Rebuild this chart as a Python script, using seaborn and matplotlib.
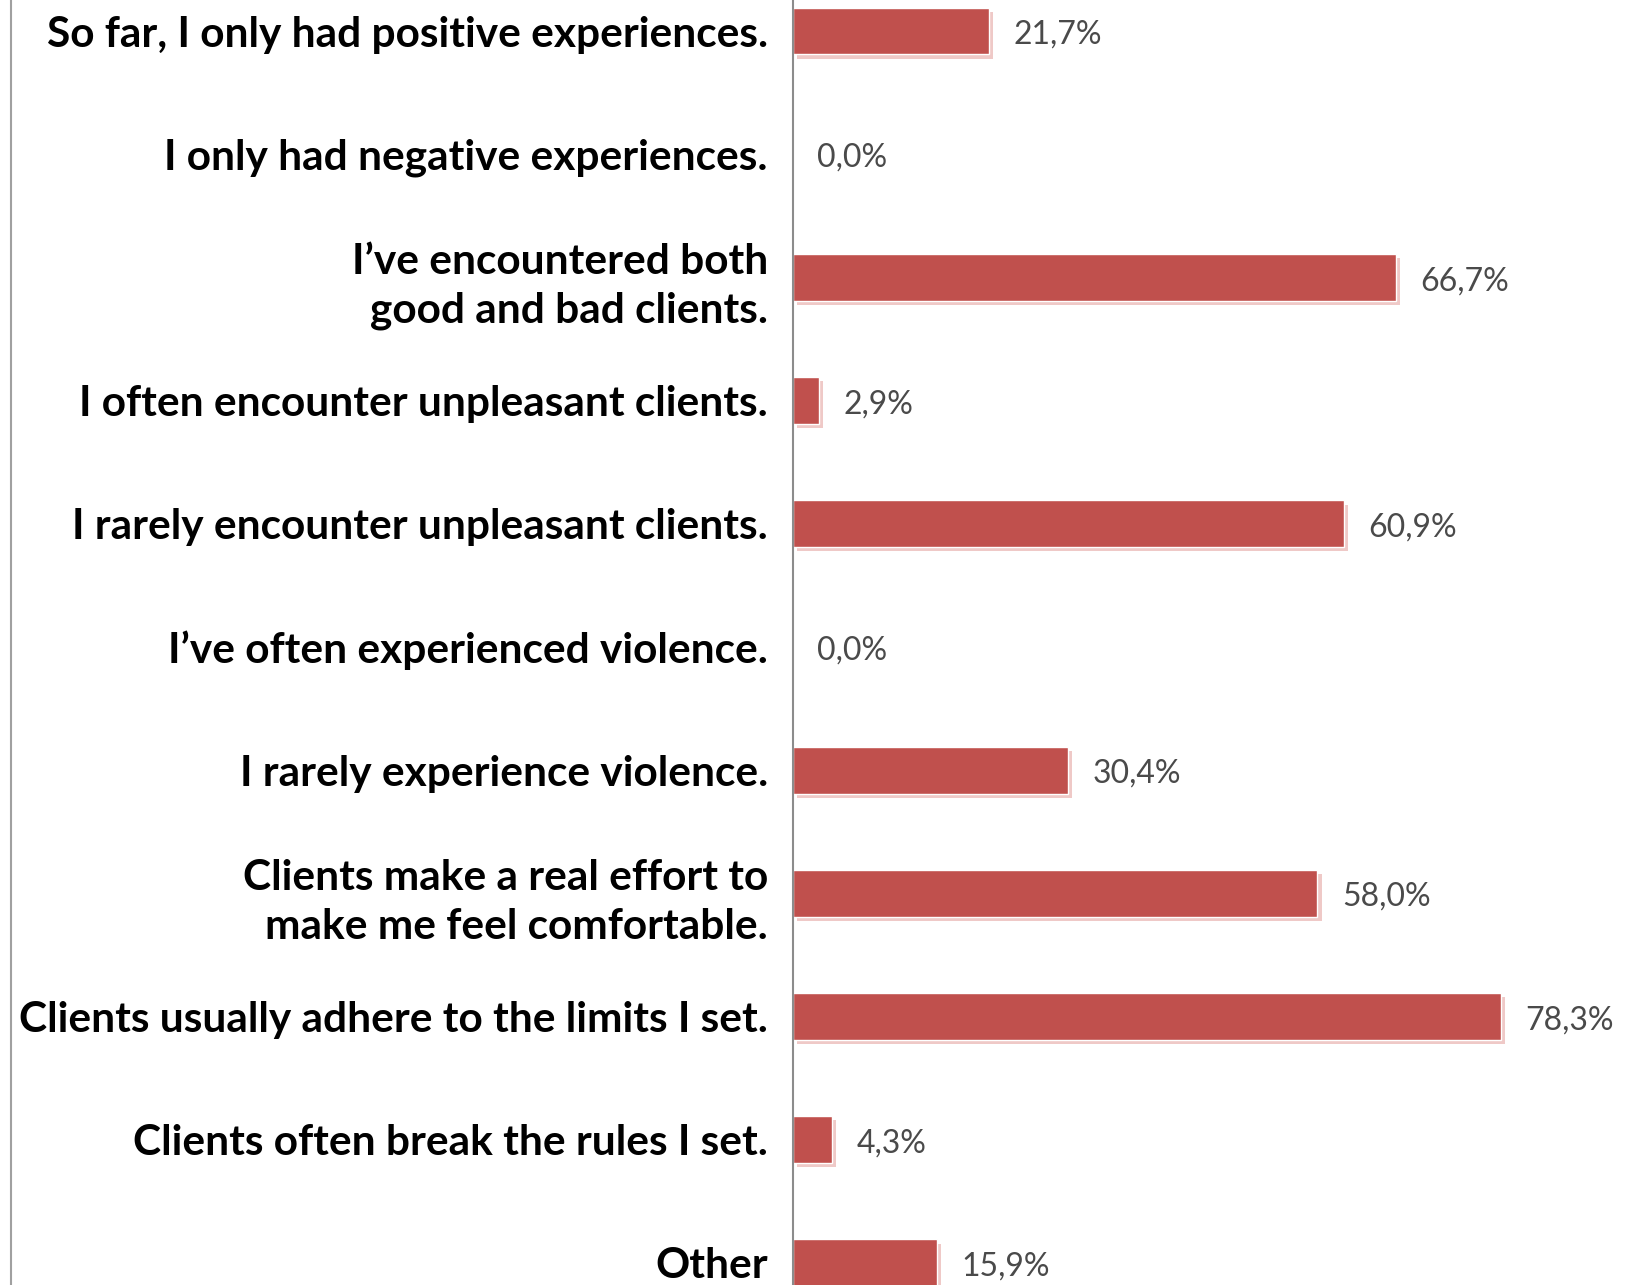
import matplotlib
matplotlib.use("Agg")
import matplotlib.pyplot as plt
import matplotlib.patheffects as pe
from matplotlib.lines import Line2D
import seaborn as sns
import pandas as pd

# ── Data ──────────────────────────────────────────────
answers = [
    "So far, I only had positive experiences.",
    "I only had negative experiences.",
    "I\u2019ve encountered both\ngood and bad clients.",
    "I often encounter unpleasant clients.",
    "I rarely encounter unpleasant clients.",
    "I\u2019ve often experienced violence.",
    "I rarely experience violence.",
    "Clients make a real effort to\nmake me feel comfortable.",
    "Clients usually adhere to the limits I set.",
    "Clients often break the rules I set.",
    "Other",
]
shares = [21.7, 0.0, 66.7, 2.9, 60.9, 0.0, 30.4, 58.0, 78.3, 4.3, 15.9]

df = pd.DataFrame({"answer": answers, "share": shares})

sns.set_style("white")
plt.rcParams["font.family"] = ["Lato", "DejaVu Sans"]

W, H = 1632, 1285
fig = plt.figure(figsize=(W / 100, H / 100), dpi=100)
ax_left = 793 / W
ax = fig.add_axes([ax_left, 0, 1 - ax_left, 1])

sns.barplot(data=df, x="share", y="answer", orient="h", color="#C0504D",
            width=0.38, saturation=1, ax=ax)

# soft shadow like the office-chart bars
for bar in ax.patches:
    bar.set_path_effects([
        pe.SimplePatchShadow(offset=(3, -3), shadow_rgbFace="#ebbcba", alpha=0.8),
        pe.Normal(),
    ])

ax.set_xlim(0, 92.8)
ax.set_ylim(10.18, -0.252)

# value labels, european decimal comma
for i, v in enumerate(shares):
    lab = f"{v:.1f}%".replace(".", ",")
    ax.text(v + 2.7, i + 0.03, lab, va="center", ha="left",
            fontsize=23, color="#4a4a4a")

ax.set_xlabel("")
ax.set_ylabel("")
ax.set_xticks([])
ax.tick_params(axis="y", length=0, pad=18)
for t in ax.get_yticklabels():
    t.set_fontsize(30.5)
    t.set_fontweight("bold")
    t.set_color("black")
    t.set_multialignment("right")
    t.set_linespacing(1.35)

sns.despine(ax=ax, top=True, right=True, bottom=True, left=False)
ax.spines["left"].set_color("#8c8c8c")
ax.spines["left"].set_linewidth(1.5)

# outer frame line on the far left of the cropped chart area
fig.add_artist(Line2D([11 / W, 11 / W], [0, 1], transform=fig.transFigure,
                      color="#a0a0a0", linewidth=1.5))

fig.savefig("out.png", dpi=100)
